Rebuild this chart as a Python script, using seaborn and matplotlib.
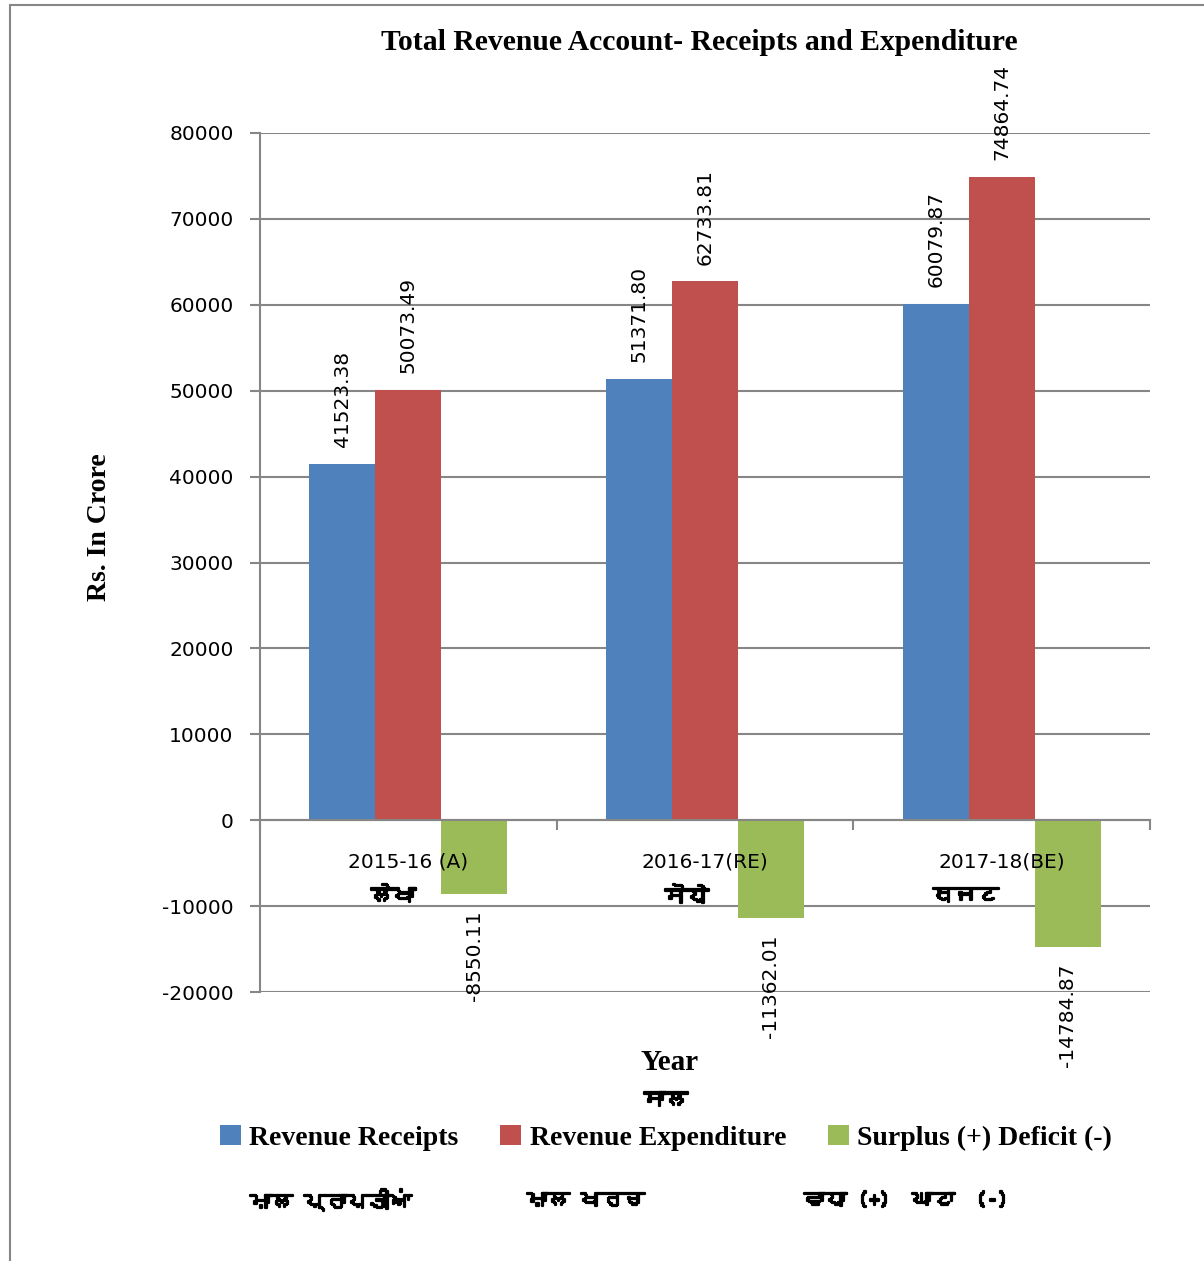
import matplotlib
matplotlib.use("Agg")
import matplotlib.pyplot as plt
import matplotlib.patheffects as pe
import numpy as np
import pandas as pd
import seaborn as sns
from matplotlib import font_manager
from matplotlib.ft2font import FT2Font
from matplotlib.lines import Line2D
from matplotlib.patches import Patch

years = ["2015-16 (A)", "2016-17(RE)", "2017-18(BE)"]
years_pa = ["ਲੇਖਾ", "ਸੋਧੇ", "ਬਜਟ"]
pa_offsets = [-0.05, -0.06, -0.12]
series = ["Revenue Receipts", "Revenue Expenditure", "Surplus (+) Deficit (-)"]
series_pa = ["ਮਾਲ ਪ੍ਰਾਪਤੀਆਂ", "ਮਾਲ ਖਰਚ", "ਵਾਧਾ (+)  ਘਾਟਾ  (-)"]
receipts = [41523.38, 51371.80, 60079.87]
expenditure = [50073.49, 62733.81, 74864.74]
surplus = [-8550.11, -11362.01, -14784.87]
colors = ["#4F81BD", "#C0504D", "#9BBB59"]
y_ticks = list(range(-20000, 80001, 10000))

GRAY = "#868686"


def find_gurmukhi_font():
    for entry in font_manager.fontManager.ttflist:
        try:
            cmap = FT2Font(entry.fname).get_charmap()
        except Exception:
            continue
        if 0x0A38 in cmap and 0x0A3E in cmap:
            return entry.name
    return None


pa_font = find_gurmukhi_font()
pa_family = [pa_font, "DejaVu Sans"] if pa_font else ["DejaVu Sans"]
pa_bold = [pe.withStroke(linewidth=1.6, foreground="black")]

df = pd.DataFrame({
    "year": years * 3,
    "value": receipts + expenditure + surplus,
    "series": np.repeat(series, len(years)),
})

sns.set_theme(style="white")
plt.rcParams["font.family"] = ["DejaVu Sans"]
plt.rcParams["axes.unicode_minus"] = False
plt.rcParams["text.color"] = "black"
plt.rcParams["axes.labelcolor"] = "black"
plt.rcParams["xtick.color"] = "black"
plt.rcParams["ytick.color"] = "black"

fig = plt.figure(figsize=(12.04, 12.61), dpi=100)
ax = fig.add_axes([260 / 1204, 1 - 992 / 1261, 890 / 1204, 859 / 1261])

sns.barplot(data=df, x="year", y="value", hue="series", order=years, hue_order=series,
            palette=colors, width=2 / 3, saturation=1, linewidth=0, legend=False, ax=ax)

for container in ax.containers:
    ax.bar_label(container, fmt="%.2f", rotation=90, padding=12, fontsize=14.5, color="black")

ax.set_ylim(-20000, 80000)
ax.set_xlim(-0.5, 2.5)
ax.set_yticks(y_ticks)
ax.tick_params(axis="y", labelsize=14.5, length=7, color=GRAY, labelcolor="black",
               width=1.5, left=True, pad=12)
ax.yaxis.grid(True, color=GRAY, linewidth=1.5)
ax.set_axisbelow(True)

ax.set_xticks([-0.5, 0.5, 1.5, 2.5])
ax.set_xticklabels([])
ax.tick_params(axis="x", length=7, color=GRAY, width=1.5, bottom=True, direction="out")
ax.spines["bottom"].set_position(("data", 0))
for side in ["top", "right"]:
    ax.spines[side].set_visible(False)
for side in ["left", "bottom"]:
    ax.spines[side].set_color(GRAY)
    ax.spines[side].set_linewidth(1.5)

for i, (yr, pa, off) in enumerate(zip(years, years_pa, pa_offsets)):
    ax.text(i, -4900, yr, ha="center", va="center", fontsize=14.5)
    ax.text(i + off, -8800, pa, ha="center", va="center", fontsize=16,
            fontweight="bold", family=pa_family, path_effects=pa_bold)

ax.set_xlabel("")
ax.set_ylabel("Rs. In Crore", fontsize=20, fontweight="bold", family="Liberation Serif")
ax.yaxis.set_label_coords(-0.166, 0.541)

fig.text(699 / 1204, 1 - 42 / 1261, "Total Revenue Account- Receipts and Expenditure",
         ha="center", va="center", fontsize=21.3, fontweight="bold", family="Liberation Serif")
fig.text(670 / 1204, 1 - 1063 / 1261, "Year", ha="center", va="center", fontsize=21,
         fontweight="bold", family="Liberation Serif")
fig.text(666 / 1204, 1 - 1100 / 1261, "ਸਾਲ", ha="center", va="center", fontsize=16,
         fontweight="bold", family=pa_family, path_effects=pa_bold)

handles = [Patch(facecolor=c, edgecolor="none") for c in colors]
fig.legend(handles, series, loc="center", bbox_to_anchor=(666 / 1204, 1 - 1138 / 1261),
           ncol=3, frameon=False, handlelength=0.75, handleheight=0.75, handletextpad=0.3,
           columnspacing=1.5, prop={"family": "Liberation Serif", "weight": "bold", "size": 20})

for x_px, label in zip([331, 586, 906], series_pa):
    fig.text(x_px / 1204, 1 - 1200 / 1261, label, ha="center", va="center", fontsize=15.5,
             fontweight="bold", family=pa_family, path_effects=pa_bold)

fig.add_artist(Line2D([10 / 1204, 10 / 1204], [0, 1 - 5 / 1261], transform=fig.transFigure,
                      color=GRAY, linewidth=1.5))
fig.add_artist(Line2D([10 / 1204, 1], [1 - 5 / 1261, 1 - 5 / 1261], transform=fig.transFigure,
                      color=GRAY, linewidth=1.5))

fig.savefig("out.png", dpi=100)
